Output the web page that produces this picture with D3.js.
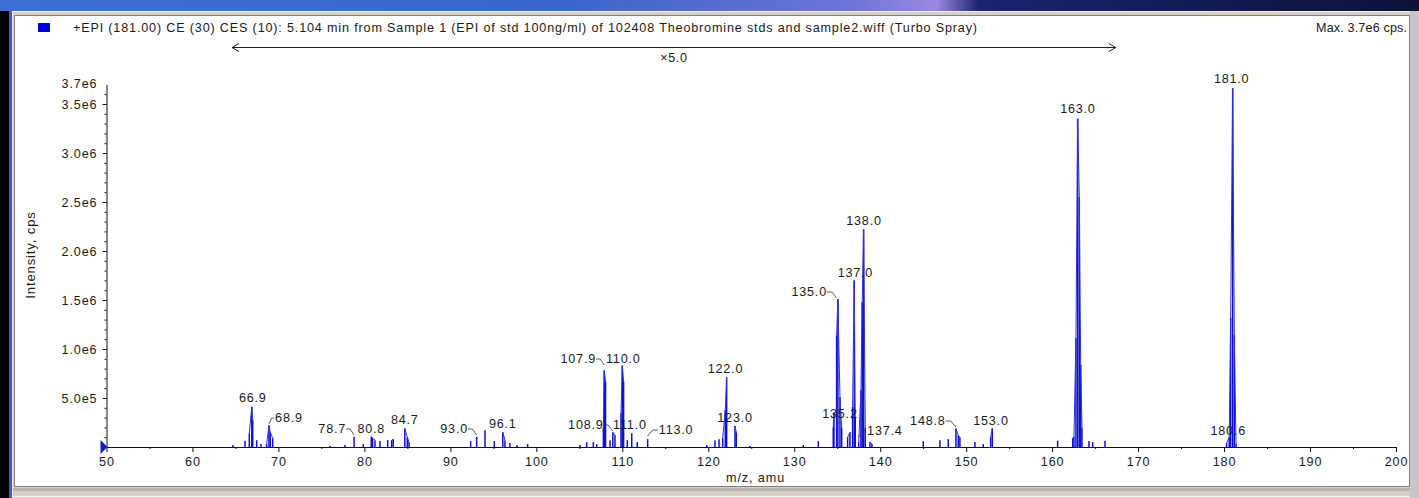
<!DOCTYPE html>
<html><head><meta charset="utf-8">
<script src="https://cdn.jsdelivr.net/npm/d3@7/dist/d3.min.js"></script>
<style>
html,body{margin:0;padding:0;background:#000;overflow:hidden}
text{font-family:Arial,"Liberation Sans",sans-serif;fill:#1a1a1a}
</style></head>
<body>
<svg id="c" width="1419" height="498"></svg>
<script>
// ---------- data ----------
const titleText = "+EPI (181.00) CE (30) CES (10): 5.104 min from Sample 1 (EPI of std 100ng/ml) of 102408 Theobromine stds and sample2.wiff (Turbo Spray)";
const maxText = "Max. 3.7e6 cps.";
const zoomFactorText = "\u00d75.0";
const zoomRange = [64.6, 167.4];   // m/z range displayed x5
const zoomFactor = 5;
// profile points: m/z and intensity (cps, actual)
const mzValues = [
 64.71,66.11,66.61,66.9,67.01,67.47,67.97,68.63,68.9,69.05,69.33,
 76.0,77.74,78.8,79.87,80.8,80.95,81.23,81.81,82.71,83.17,83.36,84.7,84.99,85.19,
 92.36,93.06,94.03,95.11,96.1,96.35,96.93,97.75,98.99,
 105.08,105.86,106.63,107.02,107.8,107.9,108.05,108.57,108.9,109.15,109.85,110.0,110.15,110.58,111.1,111.74,112.95,
 119.82,120.78,121.25,121.68,121.98,122.14,123.11,123.26,124.85,
 131.05,132.8,134.54,134.62,134.93,135.08,135.32,135.52,136.21,136.48,136.79,136.98,137.1,137.5,137.76,137.91,138.07,138.26,138.81,139.04,
 145.01,146.95,147.92,148.81,149.08,149.27,151.02,151.99,152.85,153.04,
 160.64,162.39,162.54,162.77,162.97,163.16,163.32,163.47,164.29,164.72,166.15,
 180.3,180.6,180.77,181.0,181.19,181.39
];
const intensityValues = [
 4000,13000,28000,82000,54000,14000,6000,6000,44000,30000,18000,
 2000,4000,21000,6000,21000,18000,14000,12000,14000,14000,16000,38000,20000,10000,
 12000,21000,34000,12000,30000,14000,8000,4000,6000,
 4000,10000,10000,6000,40000,156000,134000,14000,30000,24000,70000,166000,134000,14000,28000,10000,16000,
 4000,14000,16000,18000,76000,142000,43000,30000,2000,
 4000,12000,40000,70000,228000,302000,102000,40000,20000,30000,82000,340000,60000,10000,116000,296000,444000,40000,10000,6000,
 12000,14000,16000,38000,24000,20000,10000,6000,20000,38000,
 13000,18000,21000,222000,670000,510000,168000,40000,12000,10000,13000,
 40000,100000,1320000,3660000,1140000,30000
];
const peakLabels = ["66.9","68.9","78.7","80.8","84.7","93.0","96.1","107.9","108.9","110.0","111.0","113.0",
 "122.0","123.0","135.0","135.2","137.0","137.4","138.0","148.8","153.0","163.0","180.6","181.0"];
const xTickValues = [50,60,70,80,90,100,110,120,130,140,150,160,170,180,190,200];
const yTickValues = [5e5,1e6,1.5e6,2e6,2.5e6,3e6,3.5e6];
const yTickLabels = ["5.0e5","1.0e6","1.5e6","2.0e6","2.5e6","3.0e6","3.5e6"];
const yTopLabel = "3.7e6";
const xTitle = "m/z, amu";
const yTitle = "Intensity, cps";

// ---------- layout (label placement: dx from peak, baseline y, leader) ----------
const labelLayout = {
 "66.9":[1,402,0],"68.9":[20,422,1],"78.7":[-21,433,1],"80.8":[0,433,0],"84.7":[0,424,0],
 "93.0":[-22,433,1],"96.1":[0,428,0],"107.9":[-26,363,1],"108.9":[-27,429,1],"110.0":[1,363,0],
 "111.0":[-1,429,0],"113.0":[28,434,1],"122.0":[0,373,0],"123.0":[1,422,0],"135.0":[-28,296,1],
 "135.2":[1,418,0],"137.0":[1,277,0],"137.4":[27,435,1],"138.0":[1,225,0],"148.8":[-28,425,1],
 "153.0":[-1,425,0],"163.0":[0,113,0],"180.6":[-1,435,0],"181.0":[-1,83,0]
};
const FS = 12.6, LS = 0.9;

const svg = d3.select("#c");
const W = 1419, H = 498;

// window chrome
const defs = svg.append("defs");
const g1 = defs.append("linearGradient").attr("id","tb").attr("x1","0").attr("x2","1");
[[0,"#3d6fd6"],[0.4,"#3a66cc"],[0.6,"#6d74d8"],[0.66,"#9a88e0"],[0.69,"#1a2470"],[1,"#0b1238"]]
 .forEach(s=>g1.append("stop").attr("offset",s[0]).attr("stop-color",s[1]));
svg.append("rect").attr("width",W).attr("height",H).attr("fill","#000");
svg.append("rect").attr("x",0).attr("y",0).attr("width",W).attr("height",11).attr("fill","url(#tb)");
svg.append("rect").attr("x",9).attr("y",11).attr("width",3).attr("height",H-11).attr("fill","#3c5cc4");
svg.append("rect").attr("x",12).attr("y",11).attr("width",W-12).attr("height",H-11).attr("fill","#d4d0c8");
svg.append("rect").attr("x",12.5).attr("y",11.5).attr("width",W-14).attr("height",H-13).attr("fill","none").attr("stroke","#f4f2ee");
svg.append("rect").attr("x",14.5).attr("y",15.5).attr("width",1395).attr("height",471).attr("fill","#fff").attr("stroke","#808080");
svg.append("rect").attr("x",13).attr("y",488).attr("width",W-14).attr("height",3).attr("fill","#b8b4ac");
svg.append("rect").attr("x",1410).attr("y",11).attr("width",9).attr("height",H-11).attr("fill","#c8c6cc");

// scales
const x = d3.scaleLinear().domain([50,200]).range([106.5,1396]);
const y = d3.scaleLinear().domain([0,3.7e6]).range([447,84.4]);
const disp = (mz,v) => (mz>=zoomRange[0] && mz<=zoomRange[1]) ? v*zoomFactor : v;

// header
svg.append("rect").attr("x",38).attr("y",23).attr("width",12).attr("height",9).attr("fill","#0000e0");
svg.append("text").attr("x",73).attr("y",32).attr("font-size",FS).attr("textLength",904).attr("lengthAdjust","spacing").text(titleText);
svg.append("text").attr("x",1316).attr("y",32).attr("font-size",FS).attr("textLength",91).attr("lengthAdjust","spacing").text(maxText);

// zoom arrow
const ay = 47.5;
const ax0 = x(zoomRange[0]), ax1 = x(zoomRange[1]);
const arr = svg.append("g").attr("stroke","#222").attr("fill","none").attr("stroke-width",1);
arr.append("line").attr("x1",ax0).attr("x2",ax1).attr("y1",ay).attr("y2",ay);
arr.append("path").attr("d",`M${ax0+7},${ay-4}L${ax0},${ay}L${ax0+7},${ay+4}`);
arr.append("path").attr("d",`M${ax1-7},${ay-4}L${ax1},${ay}L${ax1-7},${ay+4}`);
svg.append("text").attr("x",(ax0+ax1)/2).attr("y",62).attr("text-anchor","middle").attr("font-size",FS).attr("letter-spacing",0.6).text(zoomFactorText);

// spectrum sticks
const pts = mzValues.map((m,i)=>({mz:m, v:intensityValues[i]}));
svg.append("g").selectAll("line").data(pts).join("line")
 .attr("x1",d=>x(d.mz)).attr("x2",d=>x(d.mz))
 .attr("y1",y(0)).attr("y2",d=>y(disp(d.mz,d.v)))
 .attr("stroke","#1010d0").attr("stroke-width",1.5);
// profile outline joining sticks within peaks
const line = d3.line().x(d=>x(d.mz)).y(d=>y(disp(d.mz,d.v)));
let groups=[], cur=[];
pts.forEach((p,i)=>{ if(i>0 && p.mz-pts[i-1].mz>0.3){groups.push(cur);cur=[];} cur.push(p);});
groups.push(cur);
svg.append("g").selectAll("path").data(groups.filter(g=>g.length>1)).join("path")
 .attr("d",line).attr("fill","none").attr("stroke","#3030d8").attr("stroke-width",1);

// axes
const xAxis = svg.append("g").attr("transform",`translate(0,${y(0)})`)
 .call(d3.axisBottom(x).tickValues(xTickValues).tickSize(5).tickSizeOuter(0).tickFormat(d3.format("d")));
const xMinor = svg.append("g").attr("transform",`translate(0,${y(0)})`)
 .call(d3.axisBottom(x).tickValues(d3.range(55,200,10)).tickSize(2).tickSizeOuter(0).tickFormat(""));
xMinor.select(".domain").remove();
const yAxis = svg.append("g").attr("transform",`translate(${x(50)},0)`)
 .call(d3.axisLeft(y).tickValues(yTickValues).tickSize(4).tickSizeOuter(0).tickFormat((d,i)=>yTickLabels[i]));
const yMinor = svg.append("g").attr("transform",`translate(${x(50)},0)`)
 .call(d3.axisLeft(y).tickValues(d3.range(1e5,3.7e6,1e5)).tickSize(2).tickFormat(""));
yMinor.select(".domain").remove();
[xAxis,yAxis,xMinor,yMinor].forEach(a=>{
 a.selectAll("path,line").attr("stroke","#111");
 a.selectAll("text").attr("font-size",FS).attr("letter-spacing",LS).attr("fill","#1a1a1a").style("font-family","Arial, Liberation Sans, sans-serif");
});
xAxis.selectAll("text").attr("dy","0.9em");
yAxis.selectAll("text").attr("x",-9);
svg.append("text").attr("x",x(50)-9).attr("y",y(3.7e6)+4).attr("text-anchor","end")
 .attr("font-size",FS).attr("letter-spacing",LS).text(yTopLabel);
// origin marker
svg.append("path").attr("d",`M${x(50)-6},${y(0)-7}L${x(50)+1},${y(0)}L${x(50)-6},${y(0)+7}Z`).attr("fill","#1020c0");

// titles
svg.append("text").attr("x",x(125.5)).attr("y",482).attr("text-anchor","middle").attr("font-size",FS).attr("letter-spacing",LS).text(xTitle);
svg.append("text").attr("transform","translate(35,255) rotate(-90)").attr("text-anchor","middle").attr("font-size",13).attr("letter-spacing",0.9).text(yTitle);

// peak labels
const lg = svg.append("g");
peakLabels.forEach(lbl=>{
 const mz = +lbl;
 const [dx,by,lead] = labelLayout[lbl];
 const cx = x(mz)+dx;
 const t = lg.append("text").attr("x",cx).attr("y",by).attr("text-anchor","middle")
  .attr("font-size",FS).attr("letter-spacing",0.8).text(lbl);
 if(lead){
  const w = t.node().getComputedTextLength();
  let best = pts.reduce((a,b)=>Math.abs(b.mz-mz)<Math.abs(a.mz-mz)?b:a);
  const px = x(best.mz), py = y(disp(best.mz,best.v));
  const ex = dx<0 ? cx+w/2 : cx-w/2-1;
  lg.append("path").attr("d",`M${ex},${by-4}L${(ex+px)/2},${by-4}L${px},${Math.min(py,by+2)}`)
   .attr("fill","none").attr("stroke","#333").attr("stroke-width",0.8);
 }
});
</script>
</body></html>
